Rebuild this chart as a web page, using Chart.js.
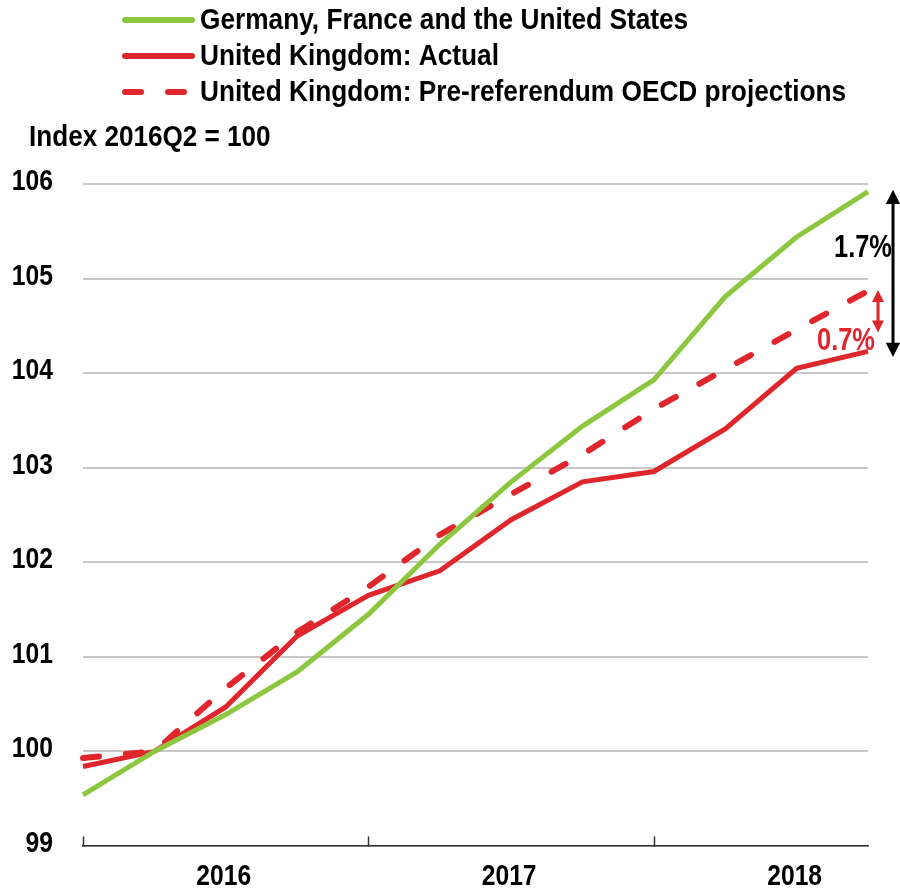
<!DOCTYPE html>
<html>
<head>
<meta charset="utf-8">
<script src="https://cdn.jsdelivr.net/npm/chart.js@4/dist/chart.umd.min.js"></script>
<style>
  html, body { margin: 0; padding: 0; background: #fff; }
  #wrap { width: 900px; height: 892px; position: relative; }
</style>
</head>
<body>
<div id="wrap"><canvas id="chart" width="900" height="892"></canvas></div>
<script>
// Quarters 2016Q1 - 2018Q4, index 2016Q2 = 100
const quarters = ['2016Q1', '2016Q2', '2016Q3', '2016Q4',
                  '2017Q1', '2017Q2', '2017Q3', '2017Q4',
                  '2018Q1', '2018Q2', '2018Q3', '2018Q4'];
const yearLabels = { 2: '2016', 6: '2017', 10: '2018' };
const yearTicks = [0, 4, 8];

const gfaUs = [99.54, 100.0, 100.39, 100.84, 101.45, 102.19, 102.85, 103.44, 103.93, 104.81, 105.44, 105.92];
const ukActual = [99.84, 100.0, 100.47, 101.22, 101.65, 101.91, 102.45, 102.85, 102.96, 103.41, 104.05, 104.23];
const ukProjected = [99.93, 100.0, 100.67, 101.26, 101.74, 102.29, 102.72, 103.14, 103.62, 104.04, 104.46, 104.87];

const yMin = 99, yMax = 106;

const GREEN = '#8dc63f';
const RED = '#e0262d';
const FONT = '"Liberation Sans", Arimo, Arial, sans-serif';

// Liberation Sans squeezed horizontally to look like Arial Narrow
function narrowText(ctx, str, x, y, size, color, align, sx) {
    ctx.save();
    ctx.translate(x, y);
    ctx.scale(sx || 0.82, 1);
    ctx.font = 'bold ' + size + 'px ' + FONT;
    ctx.fillStyle = color;
    ctx.textAlign = align;
    ctx.textBaseline = 'middle';
    ctx.fillText(str, 0, 0);
    ctx.restore();
}

// legend + subtitle + tick labels + arrows + upward year ticks
const extras = {
    id: 'extras',
    afterDatasetsDraw(chart) {
        const ctx = chart.ctx;
        const x = chart.scales.x, y = chart.scales.y;
        const area = chart.chartArea;
        ctx.save();

        // legend rows
        chart.data.datasets.forEach((ds, i) => {
            const cy = 20 + i * 36;
            ctx.strokeStyle = ds.borderColor;
            ctx.lineWidth = 6;
            ctx.lineCap = 'round';
            ctx.setLineDash(ds.borderDash ? [16, 27] : []);
            ctx.beginPath();
            ctx.moveTo(125, cy);
            ctx.lineTo(192, cy);
            ctx.stroke();
            ctx.setLineDash([]);
            narrowText(ctx, ds.label, 200, cy + 1, 30, '#000', 'left', 0.875);
        });

        narrowText(ctx, 'Index 2016Q2 = 100', 29, 138, 29, '#000', 'left', 0.9);

        // y tick labels
        y.ticks.forEach(t => {
            narrowText(ctx, String(t.value), 53, y.getPixelForValue(t.value) - 2, 29, '#000', 'right', 0.85);
        });
        // x year labels
        Object.keys(yearLabels).forEach(i => {
            narrowText(ctx, yearLabels[i], x.getPixelForValue(+i) - 2, 877, 30, '#000', 'center', 0.82);
        });

        // small upward ticks on the x axis
        ctx.strokeStyle = '#333';
        ctx.lineWidth = 1.5;
        yearTicks.forEach(i => {
            const px = Math.round(x.getPixelForValue(i)) + 0.5;
            ctx.beginPath();
            ctx.moveTo(px, area.bottom);
            ctx.lineTo(px, area.bottom - 9);
            ctx.stroke();
        });

        // gap arrows
        const arrow = (ax, v1, v2, color, head) => {
            const y1 = y.getPixelForValue(v1), y2 = y.getPixelForValue(v2);
            ctx.strokeStyle = color;
            ctx.fillStyle = color;
            ctx.lineWidth = 3;
            ctx.beginPath();
            ctx.moveTo(ax, y1 + head);
            ctx.lineTo(ax, y2 - head);
            ctx.stroke();
            ctx.beginPath();
            ctx.moveTo(ax, y1);
            ctx.lineTo(ax - head * 0.6, y1 + head * 1.2);
            ctx.lineTo(ax + head * 0.6, y1 + head * 1.2);
            ctx.closePath();
            ctx.fill();
            ctx.beginPath();
            ctx.moveTo(ax, y2);
            ctx.lineTo(ax - head * 0.6, y2 - head * 1.2);
            ctx.lineTo(ax + head * 0.6, y2 - head * 1.2);
            ctx.closePath();
            ctx.fill();
        };
        arrow(area.right + 25, 105.94, 104.17, '#000', 12);
        arrow(area.right + 10, 104.88, 104.43, RED, 10);

        narrowText(ctx, '1.7%', area.right - 5, y.getPixelForValue(105.32), 31, '#000', 'center', 0.82);
        narrowText(ctx, '0.7%', area.right - 22, y.getPixelForValue(104.34), 31, RED, 'center', 0.82);

        ctx.restore();
    }
};

new Chart(document.getElementById('chart'), {
    type: 'line',
    data: {
        labels: quarters,
        datasets: [{
            label: 'Germany, France and the United States',
            data: gfaUs,
            borderColor: GREEN,
            borderWidth: 5,
            pointRadius: 0,
            tension: 0
        }, {
            label: 'United Kingdom: Actual',
            data: ukActual,
            borderColor: RED,
            borderWidth: 5,
            pointRadius: 0,
            tension: 0
        }, {
            label: 'United Kingdom: Pre-referendum OECD projections',
            data: ukProjected,
            borderColor: RED,
            borderWidth: 6,
            borderDash: [16, 27],
            borderCapStyle: 'round',
            pointRadius: 0,
            tension: 0
        }]
    },
    options: {
        responsive: false,
        animation: false,
        layout: { padding: { top: 184, right: 32, left: 0, bottom: 0 } },
        plugins: {
            legend: { display: false },
            tooltip: { enabled: false }
        },
        scales: {
            x: {
                offset: false,
                afterFit(scale) { scale.height = 46; },
                grid: { display: false, drawTicks: false },
                border: { display: true, color: '#333', width: 1.5 },
                ticks: { display: false, autoSkip: false }
            },
            y: {
                min: yMin,
                max: yMax,
                afterFit(scale) { scale.width = 83; },
                border: { display: false },
                grid: { color: '#c8c8c8', lineWidth: 2, drawTicks: false },
                ticks: { display: false, stepSize: 1 }
            }
        }
    },
    plugins: [extras]
});
</script>
</body>
</html>
